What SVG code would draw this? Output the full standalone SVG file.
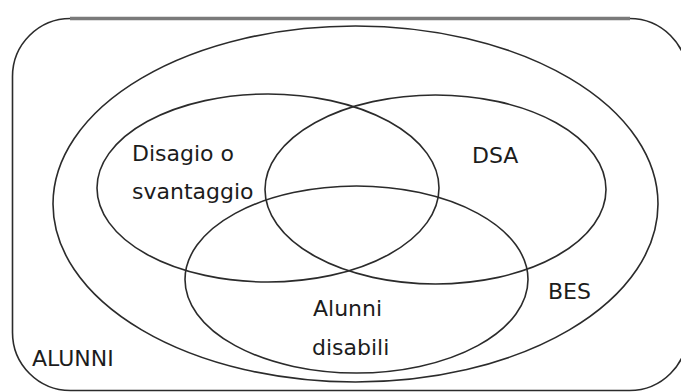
<svg xmlns="http://www.w3.org/2000/svg" width="681" height="392" viewBox="0 0 681 392">
  <style>
    .shape { fill: none; stroke: #2b2b2b; stroke-width: 1.6; }
    .label { font-family: "DejaVu Sans", "Liberation Sans", sans-serif; font-size: 22px; fill: #1c1c1c; }
  </style>
  <rect width="681" height="392" fill="#ffffff"/>
  <g id="alunni">
    <rect class="shape" x="12.5" y="18.5" width="675" height="372" rx="58" ry="58"/>
    <line x1="70" y1="18.5" x2="630" y2="18.5" stroke="#7a7a7a" stroke-width="3.5"/>
    <text class="label" x="32" y="366">ALUNNI</text>
  </g>
  <g id="bes">
    <ellipse class="shape" cx="355.5" cy="204" rx="302.5" ry="178"/>
    <text class="label" x="548" y="299">BES</text>
  </g>
  <g id="disagio">
    <ellipse class="shape" cx="268" cy="188" rx="171" ry="94"/>
    <text class="label" x="132" y="161">Disagio o</text>
    <text class="label" x="132" y="199">svantaggio</text>
  </g>
  <g id="dsa">
    <ellipse class="shape" cx="435.5" cy="189.5" rx="170.5" ry="94.5"/>
    <text class="label" x="472" y="163">DSA</text>
  </g>
  <g id="disabili">
    <ellipse class="shape" cx="356.5" cy="279.5" rx="171.5" ry="93.5"/>
    <text class="label" x="313" y="316">Alunni</text>
    <text class="label" x="312" y="355">disabili</text>
  </g>
</svg>
